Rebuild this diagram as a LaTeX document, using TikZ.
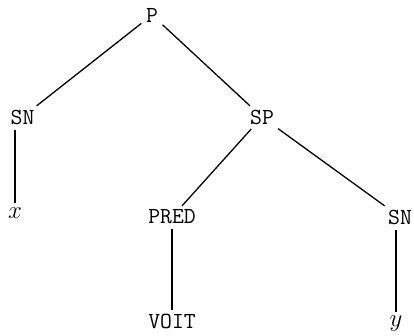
\documentclass[tikz,border=0pt]{standalone}
\begin{document}
\begin{tikzpicture}[x=1pt,y=-1pt,
  lab/.style={font=\fontsize{23}{25}\selectfont\ttfamily, inner sep=3pt},
  mlab/.style={font=\fontsize{25}{27}\selectfont, inner sep=3pt},
  edge/.style={line width=1.3pt, shorten <=2pt, shorten >=1pt}]
\useasboundingbox (0,0) rectangle (414,335);
\node[lab] (P) at (152,15) {P};
\node[lab] (SN1) at (22.5,117) {SN};
\node[lab] (SP) at (262,117) {SP};
\node[mlab] (X) at (15,213) {$x$};
\node[lab] (PRED) at (172,217) {PRED};
\node[lab] (SN2) at (400,217) {SN};
\node[lab] (VOIT) at (172,321) {VOIT};
\node[mlab] (Y) at (396,324) {$y$};
\draw[edge] (P) -- (SN1);
\draw[edge] (P) -- (SP);
\draw[edge] (SN1.south -| X.north) -- (X.north);
\draw[edge] (SP) -- (PRED);
\draw[edge] (SP) -- (SN2);
\draw[edge] (PRED) -- (VOIT);
\draw[edge] (SN2.south -| Y.north) -- (Y.north);
\end{tikzpicture}
\end{document}
